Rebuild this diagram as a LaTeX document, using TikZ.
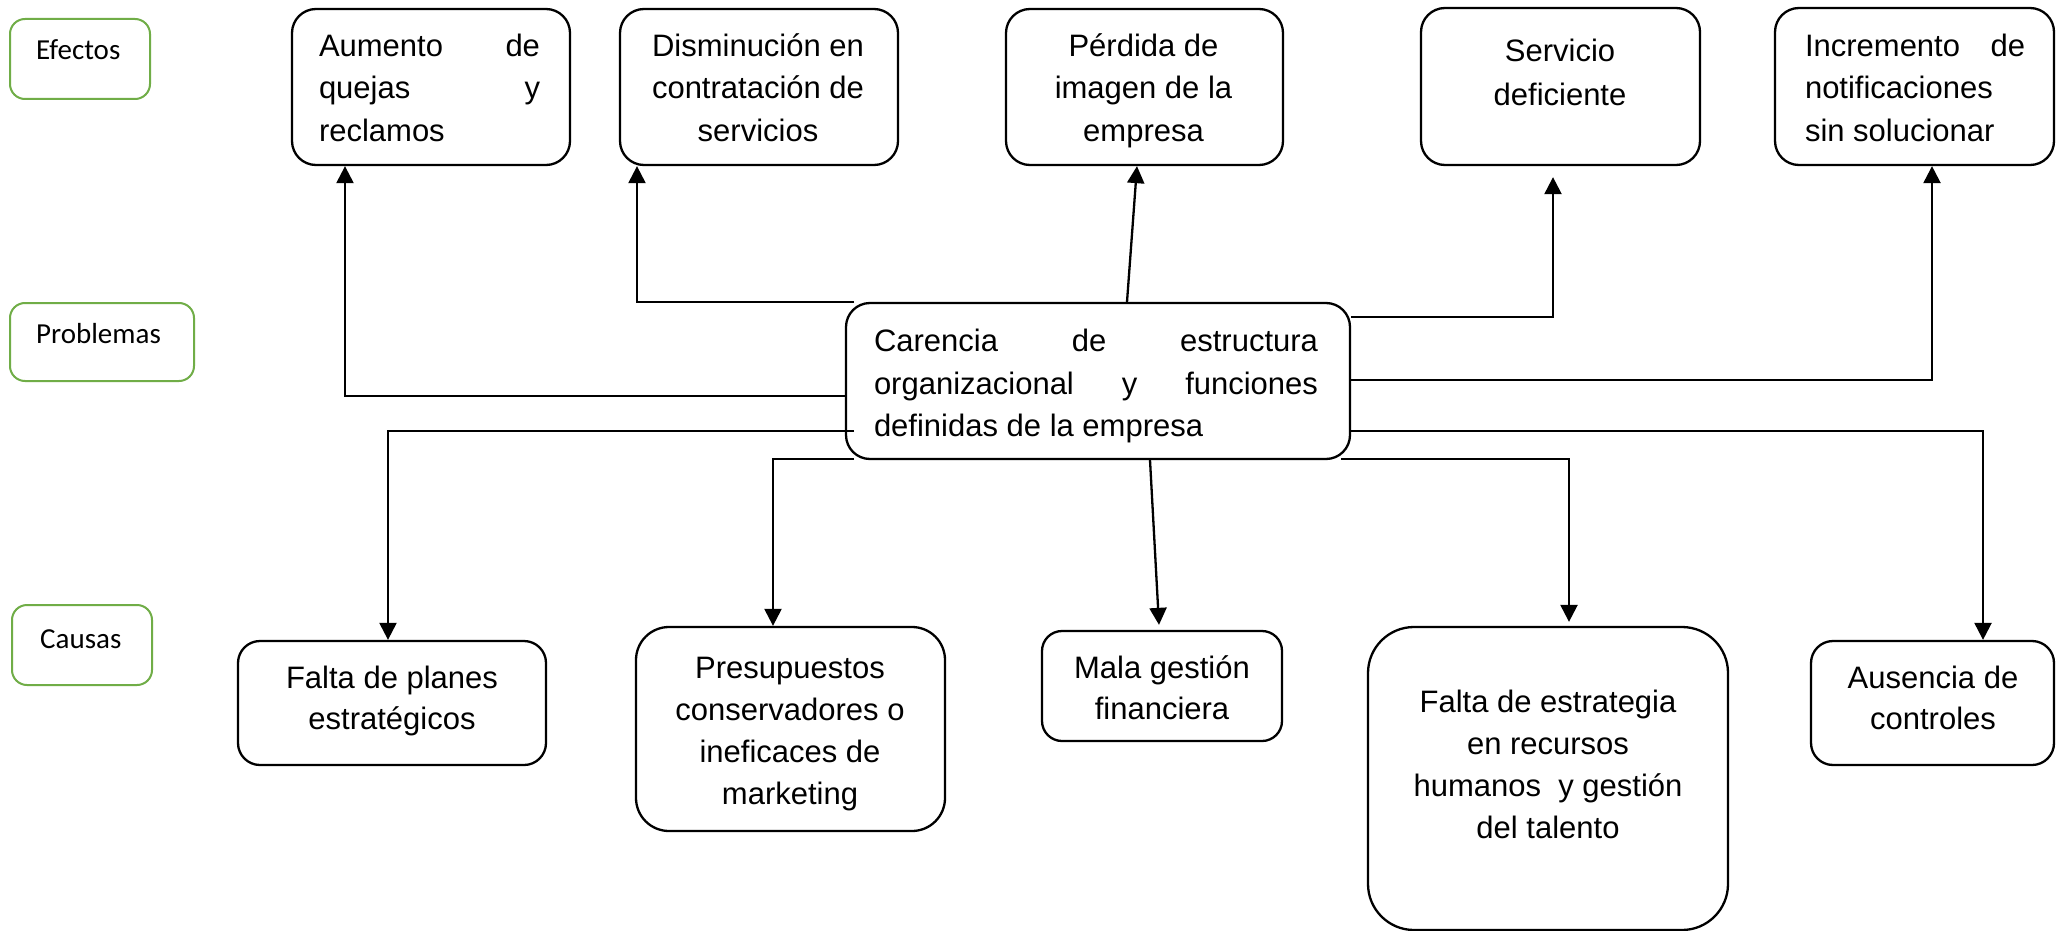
\documentclass[tikz,border=0pt]{standalone}
\usepackage{fontspec}
\setmainfont{Liberation Sans}
\newfontfamily\calfont{Carlito}
\usetikzlibrary{arrows.meta,calc}
\definecolor{labgreen}{HTML}{70AD47}
\newdimen\lw
\newcommand\Cl[1]{\hbox to \lw{\hfil #1\hfil}}
\newcommand\Jl[1]{\hbox to \lw{#1}}
\newcommand\Tb[3]{\lw=#1\relax\vtop{\baselineskip=#2\lineskiplimit=-50pt #3}}
\tikzset{
  lab/.style={draw=labgreen, line width=2pt, rounded corners=15pt, inner sep=0pt},
  box/.style={draw=black, line width=2.3pt, rounded corners=24pt, inner sep=0pt},
  arr/.style={draw=black, line width=2.3pt, -{Triangle[width=17pt,length=17pt]}},
  txt/.style={inner sep=0pt, anchor=base, font=\fontsize{31}{42.5}\selectfont},
  ltxt/.style={inner sep=0pt, anchor=base west, font=\calfont\fontsize{29}{35}\selectfont},
}
\begin{document}
\begin{tikzpicture}[x=1pt,y=-1pt]
\fill[white] (0,0) rectangle (2063,931);
\useasboundingbox (0,0) rectangle (2063,931);
% level labels
\node[lab, minimum width=140pt, minimum height=80pt] (ef) at (80,59) {};
\node[lab, minimum width=184pt, minimum height=78pt] (pr) at (102,342) {};
\node[lab, minimum width=140pt, minimum height=80pt] (ca) at (82,645) {};
\node[ltxt] (tef) at (36,60) {Efectos};
\node[ltxt] (tpr) at (36,343) {Problemas};
\node[ltxt] (tca) at (40,648) {Causas};
% effect boxes
\node[box, minimum width=278pt, minimum height=156pt] (aum) at (431,87) {};
\node[box, minimum width=278pt, minimum height=156pt] (dis) at (759,87) {};
\node[box, minimum width=277pt, minimum height=156pt] (per) at (1144.5,87) {};
\node[box, minimum width=279pt, minimum height=157pt] (ser) at (1560.5,86.5) {};
\node[box, minimum width=279pt, minimum height=157pt] (inc) at (1914.5,86.5) {};
% problem
\node[box, minimum width=504pt, minimum height=156pt] (prob) at (1098,381) {};
% causes
\node[box, rounded corners=22pt, minimum width=308pt, minimum height=124pt] (fpl) at (392,703) {};
\node[box, rounded corners=33pt, minimum width=309pt, minimum height=204pt] (pre) at (790.5,729) {};
\node[box, rounded corners=20pt, minimum width=240pt, minimum height=110pt] (mal) at (1162,686) {};
\node[box, rounded corners=46pt, minimum width=360pt, minimum height=303pt] (fes) at (1548,778.5) {};
\node[box, rounded corners=22pt, minimum width=243pt, minimum height=124pt] (aus) at (1932.5,703) {};
% texts
\node[txt] (taum) at (429.5,56.5) {\Tb{221pt}{42.5pt}{\Jl{Aumento\hfill de}\Jl{quejas\hfill y}\Jl{reclamos\hfill}}};
\node[txt] (tdis) at (758,56.5) {\Tb{240pt}{42.5pt}{\Cl{Disminución en}\Cl{contratación de}\Cl{servicios}}};
\node[txt] (tper) at (1143.5,56.5) {\Tb{240pt}{42.5pt}{\Cl{Pérdida de}\Cl{imagen de la}\Cl{empresa}}};
\node[txt] (tser) at (1560,62) {\Tb{240pt}{43.5pt}{\Cl{Servicio}\Cl{deficiente}}};
\node[txt] (tinc) at (1915,56.5) {\Tb{220pt}{42.5pt}{\Jl{Incremento\hfill de}\Jl{notificaciones\hfill}\Jl{sin solucionar\hfill}}};
\node[txt] (tprob) at (1096,351.5) {\Tb{444pt}{42.5pt}{\Jl{Carencia\hfill de\hfill estructura}\Jl{organizacional\hfill y\hfill funciones}\Jl{definidas de la empresa\hfill}}};
\node[txt] (tfpl) at (392,688) {\Tb{290pt}{41pt}{\Cl{Falta de planes}\Cl{estratégicos}}};
\node[txt] (tpre) at (790,678) {\Tb{290pt}{42pt}{\Cl{Presupuestos}\Cl{conservadores o}\Cl{ineficaces de}\Cl{marketing}}};
\node[txt] (tmal) at (1162,678) {\Tb{230pt}{41pt}{\Cl{Mala gestión}\Cl{financiera}}};
\node[txt] (tfes) at (1548,712) {\Tb{340pt}{42pt}{\Cl{Falta de estrategia}\Cl{en recursos}\Cl{humanos\ \ y gestión}\Cl{del talento}}};
\node[txt] (taus) at (1933,688) {\Tb{230pt}{41pt}{\Cl{Ausencia de}\Cl{controles}}};
% connector helper coordinates
\coordinate (k1) at (345,396);
\coordinate (k2s) at (854,302);
\coordinate (k2) at (637,302);
\coordinate (k4) at (1553,317);
\coordinate (k5) at (1932,380);
\coordinate (k6s) at (854,431);
\coordinate (k6) at (388,431);
\coordinate (k7s) at (854,459);
\coordinate (k7) at (773,459);
\coordinate (k9s) at (1341,459);
\coordinate (k9) at (1569,459);
\coordinate (k10) at (1983,431);
% effects
\draw[arr] (prob.west |- k1) -| (aum.south -| k1);
\draw[arr] (k2s) -| (dis.south -| k2);
\draw[arr] ([xshift=29pt]prob.north) -- ([xshift=-7.5pt]per.south);
\draw[arr] (prob.east |- k4) -| ([yshift=-11pt]ser.south -| k4);
\draw[arr] (prob.east |- k5) -| (inc.south -| k5);
% causes
\draw[arr] (k6s) -| (fpl.north -| k6);
\draw[arr] (k7s) -| (pre.north -| k7);
\draw[arr] ([xshift=52pt]prob.south) -- ([xshift=-3pt,yshift=5pt]mal.north);
\draw[arr] (k9s) -| ([yshift=4pt]fes.north -| k9);
\draw[arr] (prob.east |- k10) -| (aus.north -| k10);
\end{tikzpicture}
\end{document}
